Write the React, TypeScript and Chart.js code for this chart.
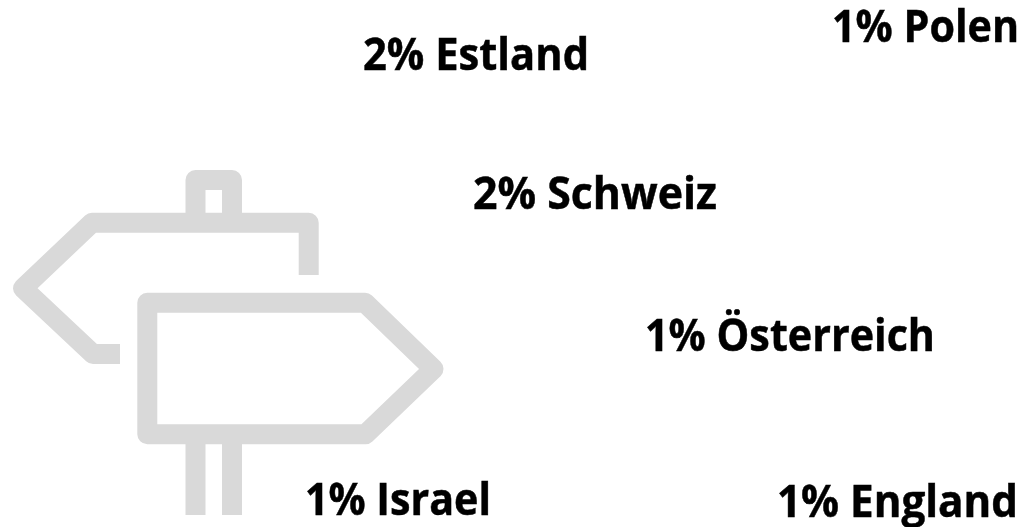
import React, { useEffect, useRef } from "react";
import { Chart, registerables } from "chart.js";

Chart.register(...registerables);

const WIDTH = 1029;
const HEIGHT = 527;

const countries = ["Estland", "Polen", "Schweiz", "Österreich", "Israel", "England"];
const shares = [2, 1, 2, 1, 1, 1];

// Where each label sits in the free word-cloud style layout
const anchorX = [363, 832, 473, 645, 305, 777];
const anchorY = [70, 42, 209, 351, 515, 517];
const spanX = [226, 187, 244, 290, 186, 241];

const TEXT_FONT = "700 45px 'Open Sans', sans-serif";
const ICON_COLOR = "#d9d9d9";

const signpostIcon = {
  id: "signpostIcon",
  beforeDatasetsDraw(chart: Chart) {
    const { ctx } = chart;
    ctx.save();
    ctx.strokeStyle = ICON_COLOR;
    ctx.lineWidth = 20;
    ctx.lineCap = "butt";
    ctx.lineJoin = "round";
    const path = (pts: number[][], close = false) => {
      ctx.beginPath();
      pts.forEach(([x, y], i) => (i ? ctx.lineTo(x, y) : ctx.moveTo(x, y)));
      if (close) ctx.closePath();
      ctx.stroke();
    };
    // left-pointing board
    path([[120, 354], [93, 354], [23, 288.3], [92, 222.7], [308.7, 222.7], [308.7, 275]]);
    // right-pointing board
    path([[147.3, 302.7], [365, 302.7], [433.5, 369], [365.5, 434.3], [147.3, 434.3]], true);
    // post above
    path([[195.5, 222], [195.5, 180], [232, 180], [232, 222]]);
    // post below
    path([[195.5, 434], [195.5, 515]]);
    path([[232, 434], [232, 515]]);
    ctx.restore();
  },
};

const shareLabels = {
  id: "shareLabels",
  afterDatasetsDraw(chart: Chart) {
    const { ctx } = chart;
    const meta = chart.getDatasetMeta(0);
    ctx.save();
    ctx.font = TEXT_FONT;
    ctx.fillStyle = "#000000";
    ctx.strokeStyle = "#000000";
    ctx.lineWidth = 0.5;
    ctx.textAlign = "left";
    ctx.textBaseline = "alphabetic";
    meta.data.forEach((pt: any, i: number) => {
      const text = `${shares[i]}% ${countries[i]}`;
      const m = ctx.measureText(text);
      const sx = spanX[i] / m.width;
      ctx.save();
      ctx.translate(pt.x, pt.y);
      ctx.scale(sx, 1);
      ctx.fillText(text, 0, 0);
      ctx.strokeText(text, 0, 0);
      ctx.restore();
    });
    ctx.restore();
  },
};

export default function App() {
  const ref = useRef<HTMLCanvasElement>(null);
  useEffect(() => {
    document.body.style.margin = "0";
    document.body.style.background = "#ffffff";
    const chart = new Chart(ref.current!, {
      type: "scatter",
      data: {
        datasets: [
          {
            label: "Anteil",
            data: countries.map((_, i) => ({ x: anchorX[i], y: anchorY[i] })),
            pointRadius: 0,
          },
        ],
      },
      options: {
        animation: false,
        responsive: false,
        layout: { padding: 0 },
        plugins: { legend: { display: false }, tooltip: { enabled: false }, title: { display: false } },
        scales: {
          x: { type: "linear", min: 0, max: WIDTH, display: false },
          y: { type: "linear", min: 0, max: HEIGHT, reverse: true, display: false },
        },
      },
      plugins: [signpostIcon, shareLabels],
    });
    return () => chart.destroy();
  }, []);
  return (
    <canvas ref={ref} width={WIDTH} height={HEIGHT} style={{ display: "block", width: WIDTH, height: HEIGHT }} />
  );
}
